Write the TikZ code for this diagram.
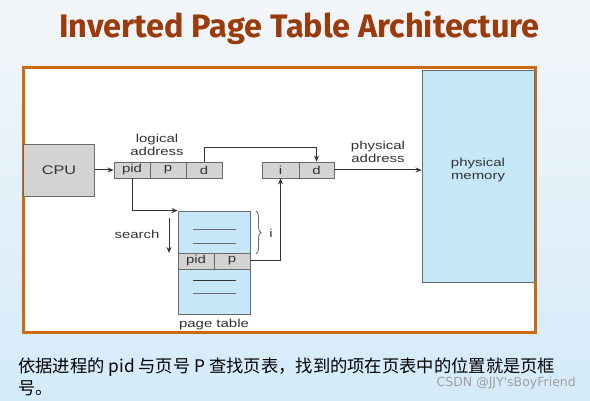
\documentclass[tikz,border=0pt]{standalone}
\usepackage{fontspec}
\setmainfont{Liberation Sans}
\newfontfamily\titlefont{Fira Sans}
\newfontfamily\lab[FakeStretch=1.3]{Liberation Sans}
\newfontfamily\cjk{Noto Sans CJK SC}
\newfontfamily\wmfont{DejaVu Sans}
\usetikzlibrary{decorations.pathreplacing,arrows.meta}
\definecolor{bgtop}{HTML}{F3F6F9}
\definecolor{bgbot}{HTML}{D4EBFA}
\definecolor{titlec}{HTML}{9B3A0A}
\definecolor{framec}{HTML}{CC6A10}
\definecolor{cellc}{HTML}{D3D3D3}
\definecolor{bluec}{HTML}{C6E7F8}
\definecolor{edgec}{HTML}{6A6A6A}
\definecolor{linec}{HTML}{333333}
\tikzset{
  lbl/.style={font=\lab\fontsize{11.5}{13}\selectfont, text=linec, inner sep=0pt, align=center},
  cell/.style={draw=edgec, fill=cellc, line width=0.9pt, inner sep=0pt, minimum height=16pt, font=\lab\fontsize{11.5}{13}\selectfont, text=linec},
  conn/.style={draw=linec, line width=1pt},
  arr/.style={conn, -{Stealth[length=6pt,width=5pt]}},
}
\begin{document}
\begin{tikzpicture}[x=1pt,y=-1pt]
\useasboundingbox (0,0) rectangle (590,401);
\shade[top color=bgtop, bottom color=bgbot] (0,0) rectangle (590,401);
\node[font=\titlefont\bfseries\fontsize{32.5}{38}\selectfont, text=titlec, inner sep=0pt] (title) at (299.5,27.5) {Inverted Page Table Architecture};
\draw[framec, line width=3pt, fill=white] (23.5,68) rectangle (535.5,332.5);
% physical memory
\node[draw=edgec, fill=bluec, line width=0.9pt, minimum width=112pt, minimum height=212pt, inner sep=0pt] (mem) at (478,176) {};
\node[lbl] (memlbl) at (478,170) {physical\\memory};
% CPU
\node[cell, minimum width=71pt, minimum height=52pt, font=\lab\fontsize{12.5}{14}\selectfont] (cpu) at (59,170) {CPU};
% logical address
\node[cell, minimum width=36pt] (pid) at (132,170) {pid};
\node[cell, minimum width=36pt] (p) at (168,170) {p};
\node[cell, minimum width=36pt] (d) at (204,170) {d};
\node[lbl] (lalbl) at (157,144.5) {logical\\address};
% physical address
\node[cell, minimum width=37pt] (i) at (280.5,170) {i};
\node[cell, minimum width=35pt] (d2) at (316.5,170) {d};
\node[lbl] (palbl) at (378,151.5) {physical\\address};
% page table
\node[draw=edgec, fill=bluec, line width=0.9pt, minimum width=72pt, minimum height=103pt, inner sep=0pt] (pt) at (214,262.5) {};
\node[cell, minimum width=36pt] (ppid) at (196,261) {pid};
\node[cell, minimum width=36pt] (pp) at (232,261) {p};
\draw[edgec, line width=0.9pt] (193,229) -- (236,229) (193,243) -- (236,243) (193,293) -- (236,293);
\draw[linec, line width=1pt] (193,281) -- (236,281);
\node[lbl] (ptlbl) at (214,325) {page table};
% search
\node[lbl] (search) at (137,234) {search};
\coordinate (s1) at (169,218);
\coordinate (s2) at (169,253);
\draw[arr] (s1) -- (s2);
% brace
\coordinate (b1) at (256,211);
\coordinate (b2) at (256,254);
\draw[edgec, line width=0.8pt, decorate, decoration={brace, amplitude=5pt}] (b1) -- (b2);
\node[lbl] (ilbl) at (271,233) {i};
% connectors
\draw[arr] (cpu.east) -- (pid.west);
\draw[arr] (d.north) -- ++(0,-14) -| (d2.north);
\draw[arr] (d2.east) -- (d2.east -| mem.west);
\draw[arr] (pid.south) |- (pt.north west);
\draw[arr] (pp.east) -| (i.south);
% bottom text
\node[font=\cjk\fontsize{17.3}{21.5}\selectfont, anchor=north west, inner sep=0pt, align=left, text=black] (note) at (18,358) {依据进程的 pid 与页号 P 查找页表，找到的项在页表中的位置就是页框\\号。};
\node[font=\wmfont\fontsize{12.5}{14}\selectfont, text=gray!75, inner sep=0pt, anchor=east] (wm) at (576,383) {CSDN @JJY'sBoyFriend};
\end{tikzpicture}
\end{document}
